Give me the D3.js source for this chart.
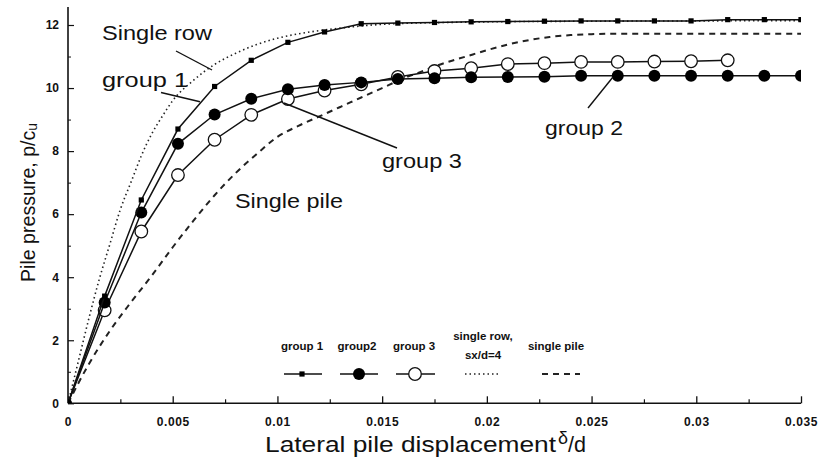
<!DOCTYPE html>
<html>
<head>
<meta charset="utf-8">
<script src="https://cdn.jsdelivr.net/npm/d3@7"></script>
<style>
  html, body { margin: 0; padding: 0; background: #fff; }
  svg { display: block; font-family: "Liberation Sans", Arial, Helvetica, sans-serif; }
</style>
</head>
<body>
<svg id="chart" width="821" height="459"></svg>
<script>
// ---------- data ----------
const groupX = [0, 0.00175, 0.0035, 0.00525, 0.007, 0.00875, 0.0105, 0.01225, 0.014, 0.01575, 0.0175,
                0.01925, 0.021, 0.02275, 0.0245, 0.02625, 0.028, 0.02975, 0.0315, 0.03325, 0.035];
const group1 = [0, 3.4, 6.45, 8.7, 10.05, 10.88, 11.45, 11.78, 12.04, 12.06, 12.08,
                12.1, 12.11, 12.12, 12.13, 12.13, 12.13, 12.13, 12.17, 12.17, 12.17];
const group2 = [0, 3.2, 6.05, 8.23, 9.16, 9.66, 9.96, 10.1, 10.18, 10.29, 10.31,
                10.34, 10.35, 10.36, 10.39, 10.39, 10.39, 10.39, 10.39, 10.39, 10.39];
const group3 = [0, 2.95, 5.45, 7.24, 8.36, 9.15, 9.65, 9.92, 10.12, 10.35, 10.54,
                10.63, 10.76, 10.79, 10.83, 10.83, 10.84, 10.85, 10.88];

const singleRowX = [0, 0.0005, 0.001, 0.0015, 0.002, 0.0025, 0.003, 0.0035, 0.004, 0.0045, 0.005,
                    0.006, 0.007, 0.008, 0.009, 0.01, 0.011, 0.012, 0.013, 0.014, 0.015, 0.016,
                    0.018, 0.02, 0.025, 0.03, 0.035];
const singleRowY = [0, 1.35, 2.7, 3.95, 5.05, 6.15, 7.0, 7.85, 8.55, 9.1, 9.6,
                    10.25, 10.75, 11.1, 11.38, 11.58, 11.72, 11.82, 11.9, 11.97, 12.02, 12.05,
                    12.08, 12.1, 12.12, 12.13, 12.14];

const singlePileX = [0, 0.001, 0.002, 0.003, 0.004, 0.005, 0.006, 0.007, 0.008, 0.009, 0.01,
                     0.011, 0.012, 0.013, 0.014, 0.015, 0.016, 0.017, 0.018, 0.019, 0.02,
                     0.021, 0.022, 0.023, 0.024, 0.025, 0.026, 0.03, 0.035];
const singlePileY = [0, 1.25, 2.3, 3.2, 4.05, 4.95, 5.8, 6.6, 7.3, 7.9, 8.45,
                     8.8, 9.1, 9.4, 9.7, 10.0, 10.3, 10.55, 10.8, 11.0, 11.2,
                     11.38, 11.52, 11.62, 11.68, 11.71, 11.72, 11.72, 11.72];

const xTickValues = [0, 0.005, 0.01, 0.015, 0.02, 0.025, 0.03, 0.035];
const xTickLabels = ["0", "0.005", "0.01", "0.015", "0.02", "0.025", "0.03", "0.035"];
const xMinorTicks = [0.0025, 0.0075, 0.0125, 0.0175, 0.0225, 0.0275, 0.0325];
const yTickValues = [0, 2, 4, 6, 8, 10, 12];
const yMinorTicks = [1, 3, 5, 7, 9, 11];

const legendLabels = ["group 1", "group2", "group 3", "single row,", "single pile"];
const legendSub = "sx/d=4";

// ---------- setup ----------
const svg = d3.select("#chart");
const x = d3.scaleLinear().domain([0, 0.035]).range([68, 801]);
const y = d3.scaleLinear().domain([0, 12]).range([403.3, 25]);

svg.append("defs").append("clipPath").attr("id", "plotclip")
  .append("rect").attr("x", x(0)).attr("y", 0).attr("width", x(0.035) - x(0)).attr("height", y(0));

// ---------- axes ----------
const xAxis = d3.axisBottom(x).tickValues(xTickValues).tickSize(-7).tickPadding(14)
  .tickFormat((d, i) => xTickLabels[i]);
const gx = svg.append("g").attr("transform", `translate(0,${y(0)})`).call(xAxis);
gx.select(".domain").remove();
gx.selectAll(".tick line").attr("stroke", "#111").attr("stroke-width", 1.3);
gx.selectAll(".tick text").attr("font-size", 12).attr("font-weight", "bold").attr("fill", "#111")
  .attr("font-family", "'Liberation Sans', Arial, sans-serif").style("letter-spacing", "0.6px");

const gxm = svg.append("g").attr("transform", `translate(0,${y(0)})`)
  .call(d3.axisBottom(x).tickValues(xMinorTicks).tickSize(-4).tickFormat(""));
gxm.select(".domain").remove();
gxm.selectAll(".tick line").attr("stroke", "#111").attr("stroke-width", 1.2);

const yAxis = d3.axisLeft(y).tickValues(yTickValues).tickSize(-6).tickPadding(9);
const gy = svg.append("g").attr("transform", `translate(${x(0)},0)`).call(yAxis);
gy.select(".domain").remove();
gy.selectAll(".tick line").attr("stroke", "#111").attr("stroke-width", 1.2);
gy.selectAll(".tick text").attr("font-size", 12).attr("font-weight", "bold").attr("fill", "#111")
  .attr("font-family", "'Liberation Sans', Arial, sans-serif");

const gym = svg.append("g").attr("transform", `translate(${x(0)},0)`)
  .call(d3.axisLeft(y).tickValues(yMinorTicks).tickSize(-3).tickFormat(""));
gym.select(".domain").remove();
gym.selectAll(".tick line").attr("stroke", "#111").attr("stroke-width", 1);

// axis lines
svg.append("line").attr("x1", x(0)).attr("x2", x(0.035)).attr("y1", y(0)).attr("y2", y(0))
  .attr("stroke", "#111").attr("stroke-width", 1.6);
svg.append("line").attr("x1", x(0)).attr("x2", x(0)).attr("y1", y(0)).attr("y2", 7)
  .attr("stroke", "#111").attr("stroke-width", 1.6);

// ---------- curves ----------
const plot = svg.append("g").attr("clip-path", "url(#plotclip)");

const smooth = d3.line().x(d => x(d[0])).y(d => y(d[1])).curve(d3.curveMonotoneX);
const straight = d3.line().x(d => x(d[0])).y(d => y(d[1]));

plot.append("path").datum(d3.zip(singlePileX, singlePileY)).attr("d", smooth)
  .attr("fill", "none").attr("stroke", "#222").attr("stroke-width", 2).attr("stroke-dasharray", "6,5");
plot.append("path").datum(d3.zip(singleRowX, singleRowY)).attr("d", smooth)
  .attr("fill", "none").attr("stroke", "#222").attr("stroke-width", 1.6).attr("stroke-dasharray", "1.5,3");

// group 3 (open circles)
const g3 = d3.zip(groupX.slice(0, group3.length), group3);
plot.append("path").datum(g3).attr("d", straight).attr("fill", "none").attr("stroke", "#111").attr("stroke-width", 1.5);
plot.selectAll(".m3").data(g3.slice(1)).join("circle").attr("class", "m3")
  .attr("cx", d => x(d[0])).attr("cy", d => y(d[1])).attr("r", 6.3)
  .attr("fill", "#fff").attr("stroke", "#111").attr("stroke-width", 1.3);

// group 2 (filled circles)
const g2 = d3.zip(groupX, group2);
plot.append("path").datum(g2).attr("d", straight).attr("fill", "none").attr("stroke", "#111").attr("stroke-width", 1.5);
plot.selectAll(".m2").data(g2.slice(1)).join("circle").attr("class", "m2")
  .attr("cx", d => x(d[0])).attr("cy", d => y(d[1])).attr("r", 6).attr("fill", "#000");

// group 1 (small squares)
const g1 = d3.zip(groupX, group1);
plot.append("path").datum(g1).attr("d", straight).attr("fill", "none").attr("stroke", "#111").attr("stroke-width", 1.5);
plot.selectAll(".m1").data(g1.slice(1)).join("rect").attr("class", "m1")
  .attr("x", d => x(d[0]) - 2.6).attr("y", d => y(d[1]) - 2.6).attr("width", 5.2).attr("height", 5.2).attr("fill", "#000");

// origin blob
plot.append("circle").attr("cx", x(0)).attr("cy", y(0)).attr("r", 4).attr("fill", "#000");

// ---------- annotations ----------
function label(txt, xx, yy, len, size) {
  svg.append("text").attr("x", xx).attr("y", yy).attr("font-size", size || 21)
    .attr("textLength", len).attr("lengthAdjust", "spacingAndGlyphs").attr("fill", "#111").text(txt);
}
function leader(x1, y1, x2, y2) {
  svg.append("line").attr("x1", x1).attr("y1", y1).attr("x2", x2).attr("y2", y2)
    .attr("stroke", "#111").attr("stroke-width", 1.4);
}
label("Single row", 102, 40, 110);
leader(176, 51, 212, 70);
label("group 1", 102, 87, 86);
leader(161, 92.5, 200, 101.7);
label("group 3", 382, 168, 80);
leader(284, 103, 397, 148);
label("group 2", 545, 135, 78);
leader(588, 108, 613, 77);
label("Single pile", 235, 208, 108);

// axis titles
svg.append("text").attr("x", 265).attr("y", 452).attr("font-size", 22)
  .attr("textLength", 291).attr("lengthAdjust", "spacingAndGlyphs").attr("fill", "#111")
  .text("Lateral pile displacement");
svg.append("text").attr("x", 558).attr("y", 444).attr("font-size", 18).attr("fill", "#111").text("δ");
svg.append("text").attr("x", 568).attr("y", 452).attr("font-size", 22)
  .attr("textLength", 18).attr("lengthAdjust", "spacingAndGlyphs").attr("fill", "#111").text("/d");

const yt = svg.append("text").attr("transform", "translate(35,282) rotate(-90)")
  .attr("font-size", 20).attr("fill", "#111").attr("textLength", 159).attr("lengthAdjust", "spacingAndGlyphs");
yt.append("tspan").text("Pile pressure, p/c");
yt.append("tspan").attr("font-size", 14).attr("dy", 2).text("u");

// ---------- legend ----------
const legendCenters = [302, 357, 414, 483, 556];
const lg = svg.append("g").attr("font-size", 11.5).attr("font-weight", "bold").attr("fill", "#111");
legendLabels.forEach((t, i) => {
  lg.append("text").attr("x", legendCenters[i]).attr("y", i === 3 ? 340 : 350)
    .attr("text-anchor", "middle").text(t);
});
lg.append("text").attr("x", legendCenters[3]).attr("y", 359).attr("text-anchor", "middle").text(legendSub);

const ly = 374;
// group 1
svg.append("line").attr("x1", 284).attr("x2", 322).attr("y1", ly).attr("y2", ly).attr("stroke", "#111").attr("stroke-width", 1.5);
svg.append("rect").attr("x", 302 - 2.6).attr("y", ly - 2.6).attr("width", 5.2).attr("height", 5.2).attr("fill", "#000");
// group 2
svg.append("line").attr("x1", 340).attr("x2", 378).attr("y1", ly).attr("y2", ly).attr("stroke", "#111").attr("stroke-width", 1.5);
svg.append("circle").attr("cx", 359).attr("cy", ly).attr("r", 6).attr("fill", "#000");
// group 3
svg.append("line").attr("x1", 396).attr("x2", 435).attr("y1", ly).attr("y2", ly).attr("stroke", "#111").attr("stroke-width", 1.5);
svg.append("circle").attr("cx", 415).attr("cy", ly).attr("r", 6.3).attr("fill", "#fff").attr("stroke", "#111").attr("stroke-width", 1.3);
// single row
svg.append("line").attr("x1", 465).attr("x2", 500).attr("y1", ly).attr("y2", ly).attr("stroke", "#222")
  .attr("stroke-width", 1.6).attr("stroke-dasharray", "1.5,3");
// single pile
svg.append("line").attr("x1", 542).attr("x2", 580).attr("y1", ly).attr("y2", ly).attr("stroke", "#222")
  .attr("stroke-width", 2).attr("stroke-dasharray", "6,5");
</script>
</body>
</html>
